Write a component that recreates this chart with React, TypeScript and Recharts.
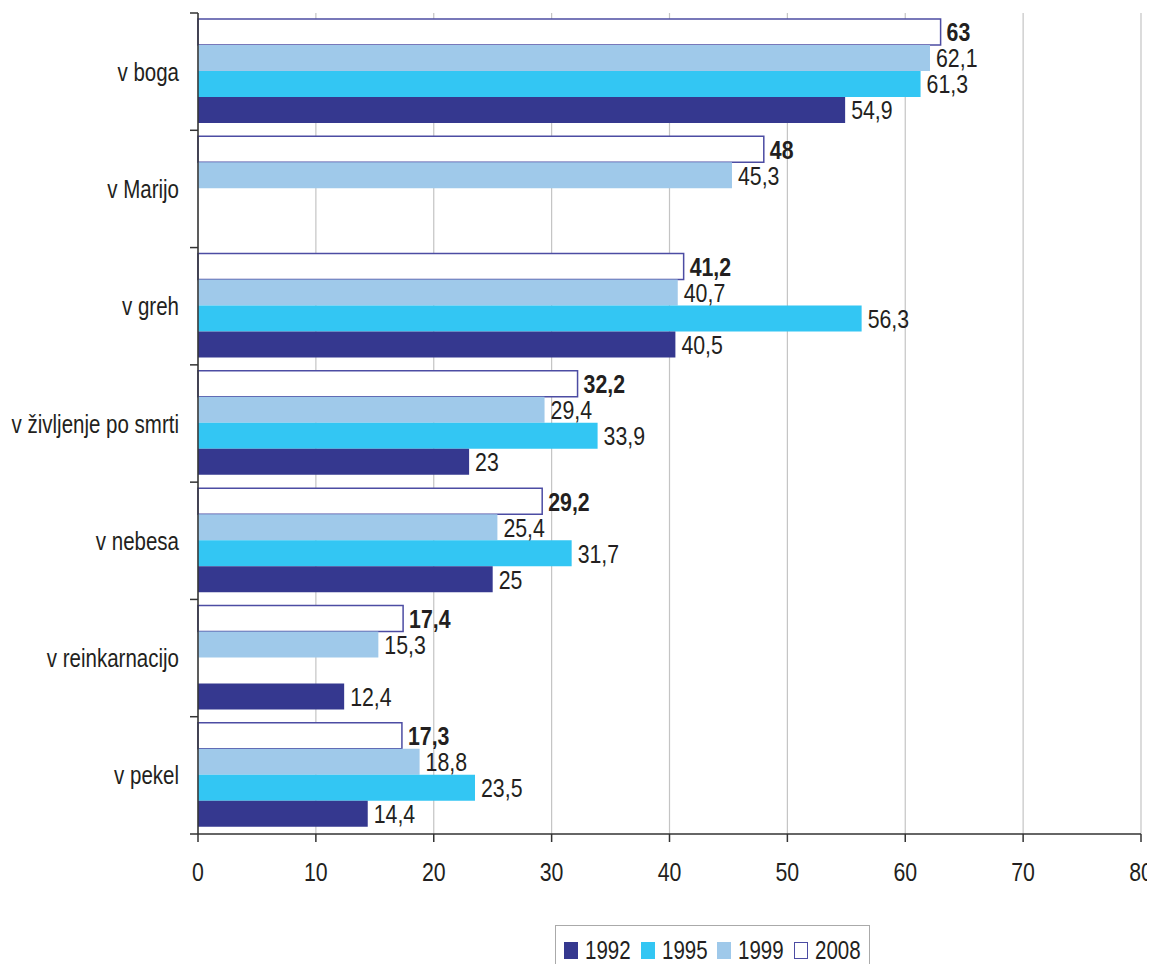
import { BarChart, Bar, XAxis, YAxis, CartesianGrid, LabelList } from 'recharts';

const categories = ['v boga', 'v Marijo', 'v greh', 'v življenje po smrti', 'v nebesa', 'v reinkarnacijo', 'v pekel'];
const y2008 = [63, 48, 41.2, 32.2, 29.2, 17.4, 17.3];
const y1999 = [62.1, 45.3, 40.7, 29.4, 25.4, 15.3, 18.8];
const y1995 = [61.3, null, 56.3, 33.9, 31.7, null, 23.5];
const y1992 = [54.9, null, 40.5, 23, 25, 12.4, 14.4];
const xTicks = [0, 10, 20, 30, 40, 50, 60, 70, 80];

const data = categories.map((name, i) => ({
    name, y2008: y2008[i], y1999: y1999[i], y1995: y1995[i], y1992: y1992[i],
}));

// no Arial Narrow here, so squeeze Liberation Sans horizontally
const FONT = "'Liberation Sans', Arial, sans-serif";
const NARROW = 0.82;
const TEXT = '#231f20';
const C1992 = '#35388f';
const C1995 = '#33c6f3';
const C1999 = '#9fc9ea';
const C2008 = '#4c4ca3';

const W = 1147, H = 900;
const M = { top: 5, right: 14, left: 0, bottom: 14 };
const PLOT_H = H - M.top - M.bottom - 60;

const fmt = (v: any) => (v == null ? '' : String(v).replace('.', ','));

const NarrowText = ({ x, y, anchor = 'start', dy = '0.36em', bold = false, size = 26, children }: any) => (
    <text transform={`translate(${x} ${y}) scale(${NARROW} 1)`} x={0} y={0} dy={dy} textAnchor={anchor}
        fontFamily={FONT} fontSize={size} fontWeight={bold ? 'bold' : 'normal'} fill={TEXT}>
        {children}
    </text>
);

const CategoryTick = ({ x, y, payload, index }: any) => {
    const band = PLOT_H / categories.length;
    const last = index === categories.length - 1;
    return (
        <g>
            <line x1={x - 8} x2={x} y1={y - band / 2} y2={y - band / 2} stroke="#333" strokeWidth={1.5} />
            {last && <line x1={x - 8} x2={x} y1={y + band / 2} y2={y + band / 2} stroke="#333" strokeWidth={1.5} />}
            <NarrowText x={x - 19} y={y} anchor="end" size={25}>{payload.value}</NarrowText>
        </g>
    );
};

const ValueTick = ({ x, y, payload }: any) => (
    <NarrowText x={x} y={y} anchor="middle" dy="0.71em">{payload.value}</NarrowText>
);

const makeLabel = (bold: boolean) => (props: any) => {
    const { value } = props;
    if (value == null) return null;
    const vb = props.viewBox ?? props;
    return (
        <NarrowText x={vb.x + vb.width + 6} y={vb.y + vb.height / 2} bold={bold}>{fmt(value)}</NarrowText>
    );
};

const legendItems = [
    { label: '1992', fill: C1992, border: C1992 },
    { label: '1995', fill: C1995, border: C1995 },
    { label: '1999', fill: C1999, border: C1999 },
    { label: '2008', fill: '#fff', border: C2008 },
];

export default function App() {
    return (
        <div style={{ position: 'relative', width: W, height: 956 }}>
            <style>{'html { overflow: hidden; }'}</style>
            <BarChart width={W} height={H} data={data} layout="vertical" margin={M}
                barCategoryGap={6} barGap={0} style={{ overflow: 'visible' }}>
                <CartesianGrid horizontal={false} stroke="#c4c4c4" strokeWidth={1.2} />
                <XAxis type="number" domain={[0, 80]} ticks={xTicks} interval={0} height={60}
                    axisLine={{ stroke: '#333', strokeWidth: 1.5 }} tickLine={{ stroke: '#333', strokeWidth: 1.5 }}
                    tickSize={8} tickMargin={21} tick={<ValueTick />} />
                <XAxis xAxisId="top" type="number" orientation="top" domain={[0, 80]} height={0}
                    tick={false} tickLine={false} axisLine={{ stroke: '#aaa', strokeWidth: 1.5 }} />
                <YAxis type="category" dataKey="name" width={190} interval={0} tickSize={0} tickMargin={0}
                    tickLine={false} axisLine={{ stroke: '#333', strokeWidth: 1.5 }} tick={<CategoryTick />} />
                <Bar dataKey="y2008" fill="#fff" stroke={C2008} strokeWidth={1.5} isAnimationActive={false}>
                    <LabelList dataKey="y2008" content={makeLabel(true)} />
                </Bar>
                <Bar dataKey="y1999" fill={C1999} isAnimationActive={false}>
                    <LabelList dataKey="y1999" content={makeLabel(false)} />
                </Bar>
                <Bar dataKey="y1995" fill={C1995} isAnimationActive={false}>
                    <LabelList dataKey="y1995" content={makeLabel(false)} />
                </Bar>
                <Bar dataKey="y1992" fill={C1992} isAnimationActive={false}>
                    <LabelList dataKey="y1992" content={makeLabel(false)} />
                </Bar>
            </BarChart>
            <div style={{
                position: 'absolute', left: 547, top: 917, width: 315, height: 50,
                border: '1px solid #aaa', display: 'flex', alignItems: 'flex-start',
                paddingLeft: 8, paddingTop: 10, boxSizing: 'border-box',
                fontFamily: FONT, fontSize: 25, color: TEXT,
            }}>
                {legendItems.map((it) => (
                    <div key={it.label} style={{ display: 'flex', alignItems: 'center', width: 77, lineHeight: '28px' }}>
                        <span style={{
                            display: 'inline-block', width: 12, height: 15, background: it.fill,
                            border: `1.5px solid ${it.border}`, marginRight: 7, flex: 'none',
                        }} />
                        <span style={{
                            display: 'inline-block', whiteSpace: 'nowrap',
                            transform: `scaleX(${NARROW})`, transformOrigin: 'left center',
                        }}>{it.label}</span>
                    </div>
                ))}
            </div>
        </div>
    );
}
